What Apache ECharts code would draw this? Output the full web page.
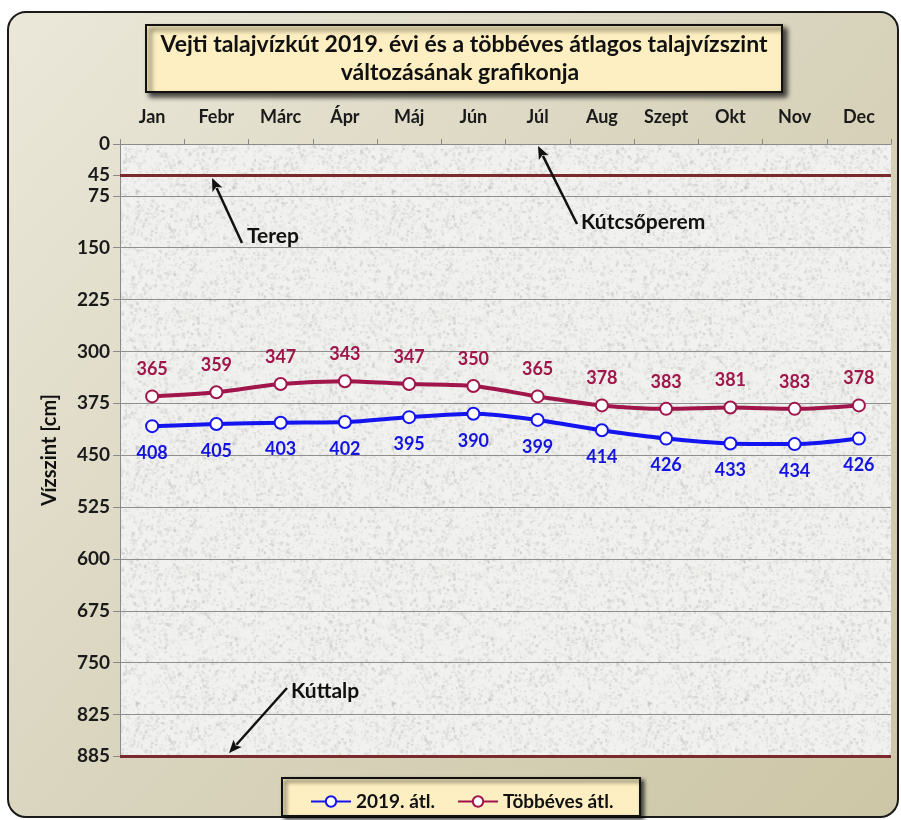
<!DOCTYPE html>
<html>
<head>
<meta charset="utf-8">
<title>Vejti talajvízkút</title>
<script src="https://cdn.jsdelivr.net/npm/echarts@6/dist/echarts.min.js"></script>
<style>
  html, body { margin: 0; padding: 0; background: #ffffff; }
  #chart { width: 901px; height: 820px; }
</style>
</head>
<body>
<div id="chart"></div>
<script>
// Months along the top axis
const months = ['Jan', 'Febr', 'Márc', 'Ápr', 'Máj', 'Jún', 'Júl', 'Aug', 'Szept', 'Okt', 'Nov', 'Dec'];

// Monthly mean water depth below the well head [cm]
const avg2019 = [408, 405, 403, 402, 395, 390, 399, 414, 426, 433, 434, 426];
const avgMultiYear = [365, 359, 347, 343, 347, 350, 365, 378, 383, 381, 383, 378];

// Reference levels: ground surface and well bottom
const groundLevel = 45;
const wellBottom = 885;

// Depth axis labels
const yTicks = [0, 45, 75, 150, 225, 300, 375, 450, 525, 600, 675, 750, 825, 885];

const FONT = 'Lato';

// Granite-like speckled fill for the plot area
function graniteTexture() {
  const c = document.createElement('canvas');
  c.width = 256; c.height = 256;
  const g = c.getContext('2d');
  g.fillStyle = '#f1f1ef';
  g.fillRect(0, 0, 256, 256);
  const hash = (n) => { const s = Math.sin(n * 12.9898) * 43758.5453; return s - Math.floor(s); };
  for (let i = 0; i < 7000; i++) {
    const x = hash(i + 0.1) * 256;
    const y = hash(i + 7.3) * 256;
    const v = Math.round(185 + hash(i + 3.7) * 45);
    const a = 0.15 + hash(i + 5.1) * 0.35;
    g.fillStyle = `rgba(${v},${v},${v - 3},${a.toFixed(2)})`;
    const s = 0.8 + hash(i + 9.9) * 2.2;
    g.fillRect(x, y, s, s * (0.5 + hash(i + 2.2)));
  }
  return c;
}

function arrow(tail, tip, z) {
  const dx = tip[0] - tail[0], dy = tip[1] - tail[1];
  const len = Math.hypot(dx, dy);
  const ux = dx / len, uy = dy / len;
  const hl = 13, hw = 5.5;
  const bx = tip[0] - ux * hl, by = tip[1] - uy * hl;
  return [
    { type: 'line', z: z, silent: true,
      shape: { x1: tail[0], y1: tail[1], x2: bx + ux * 2, y2: by + uy * 2 },
      style: { stroke: '#111', lineWidth: 2.5 } },
    { type: 'polygon', z: z, silent: true,
      shape: { points: [tip, [bx - uy * hw, by + ux * hw], [bx + ux * 3, by + uy * 3], [bx + uy * hw, by - ux * hw]] },
      style: { fill: '#111' } }
  ];
}

const chart = echarts.init(document.getElementById('chart'), null, { renderer: 'canvas' });

const labelText = (color) => ({
  show: true,
  color: color,
  fontFamily: FONT,
  fontWeight: 'bold',
  fontSize: 18
});

chart.setOption({
  backgroundColor: '#ffffff',
  animation: false,
  textStyle: { fontFamily: FONT },
  grid: {
    left: 120, top: 144, width: 771, height: 612,
    show: true,
    borderWidth: 0,
    backgroundColor: { image: graniteTexture(), repeat: 'repeat' },
    z: -1
  },
  legend: {
    left: 305, top: 787,
    itemWidth: 40, itemHeight: 13, itemGap: 22,
    textStyle: { fontFamily: FONT, fontWeight: 'bold', fontSize: 19, color: '#111' },
    data: ['2019. átl.', 'Többéves átl.'],
    z: 10
  },
  xAxis: {
    type: 'category',
    position: 'top',
    data: months,
    boundaryGap: true,
    axisLine: { show: true, lineStyle: { color: '#8a8a8a', width: 1 } },
    axisTick: { show: true, length: 5, interval: 0, lineStyle: { color: '#8a8a8a' } },
    axisLabel: { margin: 18, color: '#1a1a1a', fontFamily: FONT, fontWeight: 'bold', fontSize: 18, interval: 0 },
    splitLine: { show: false }
  },
  yAxis: {
    type: 'value',
    inverse: true,
    min: 0, max: wellBottom, interval: 75,
    name: 'Vízszint [cm]',
    nameLocation: 'middle',
    nameGap: 60,
    nameRotate: 90,
    nameTextStyle: { color: '#111', fontFamily: FONT, fontWeight: 'bold', fontSize: 20 },
    axisLine: { show: true, lineStyle: { color: '#8a8a8a', width: 1 } },
    axisTick: { show: true, length: 7, customValues: yTicks, lineStyle: { color: '#8a8a8a' } },
    axisLabel: { customValues: yTicks, margin: 10, color: '#1a1a1a', fontFamily: FONT, fontWeight: 'bold', fontSize: 19 },
    splitLine: { show: true, lineStyle: { color: '#8f8f8f', width: 1 } }
  },
  series: [
    {
      name: '2019. átl.',
      type: 'line',
      data: avg2019,
      smooth: 0.3,
      symbol: 'circle',
      symbolSize: 12,
      itemStyle: { color: '#ffffff', borderColor: '#1414f0', borderWidth: 2 },
      lineStyle: { color: '#1414f0', width: 4 },
      label: Object.assign(labelText('#1414e0'), { position: 'bottom', distance: 11 }),
      z: 5,
      markLine: {
        silent: true,
        symbol: 'none',
        label: { show: false },
        lineStyle: { color: '#7a2a2c', width: 3, type: 'solid' },
        data: [{ yAxis: groundLevel }, { yAxis: wellBottom }]
      }
    },
    {
      name: 'Többéves átl.',
      type: 'line',
      data: avgMultiYear,
      smooth: 0.3,
      symbol: 'circle',
      symbolSize: 12,
      itemStyle: { color: '#ffffff', borderColor: '#a0154a', borderWidth: 2 },
      lineStyle: { color: '#a0154a', width: 4 },
      label: Object.assign(labelText('#a0154a'), { position: 'top', distance: 11 }),
      z: 5
    }
  ],
  graphic: [
    // outer panel
    { type: 'rect', z: -10, silent: true,
      shape: { x: 8, y: 12, width: 890, height: 805, r: 18 },
      style: {
        fill: new echarts.graphic.LinearGradient(0, 0, 1, 1, [
          { offset: 0, color: '#ebe8da' },
          { offset: 0.5, color: '#d9d4bd' },
          { offset: 1, color: '#cdc6a6' }
        ]),
        stroke: '#1a1a1a', lineWidth: 2
      } },
    // title box
    { type: 'rect', z: 10, silent: true,
      shape: { x: 146, y: 25, width: 636, height: 67 },
      style: { fill: '#fdefc1', stroke: '#111', lineWidth: 2,
        shadowBlur: 5, shadowOffsetX: 4, shadowOffsetY: 4, shadowColor: 'rgba(0,0,0,0.75)' } },
    { type: 'text', z: 11, silent: true,
      style: { x: 464, y: 45, text: 'Vejti talajvízkút 2019. évi és a többéves átlagos talajvízszint',
        fill: '#111', font: `bold 23px ${FONT}`, align: 'center', verticalAlign: 'middle' } },
    { type: 'text', z: 11, silent: true,
      style: { x: 460, y: 73, text: 'változásának grafikonja',
        fill: '#111', font: `bold 23px ${FONT}`, align: 'center', verticalAlign: 'middle' } },
    // legend box
    { type: 'rect', z: 3, silent: true,
      shape: { x: 282, y: 778, width: 358, height: 38 },
      style: { fill: '#fdefc1', stroke: '#111', lineWidth: 2,
        shadowBlur: 4, shadowOffsetX: 3, shadowOffsetY: 3, shadowColor: 'rgba(0,0,0,0.7)' } },
    // annotations
    { type: 'text', z: 20, silent: true,
      style: { x: 247, y: 236, text: 'Terep', fill: '#111', font: `bold 21px ${FONT}`, verticalAlign: 'middle' } },
    ...arrow([242, 243], [212, 178], 20),
    { type: 'text', z: 20, silent: true,
      style: { x: 581, y: 222, text: 'Kútcsőperem', fill: '#111', font: `bold 21px ${FONT}`, verticalAlign: 'middle' } },
    ...arrow([577, 224], [538, 146], 20),
    { type: 'text', z: 20, silent: true,
      style: { x: 291, y: 691, text: 'Kúttalp', fill: '#111', font: `bold 21px ${FONT}`, verticalAlign: 'middle' } },
    ...arrow([287, 688], [229, 753], 20)
  ]
});
</script>
</body>
</html>
